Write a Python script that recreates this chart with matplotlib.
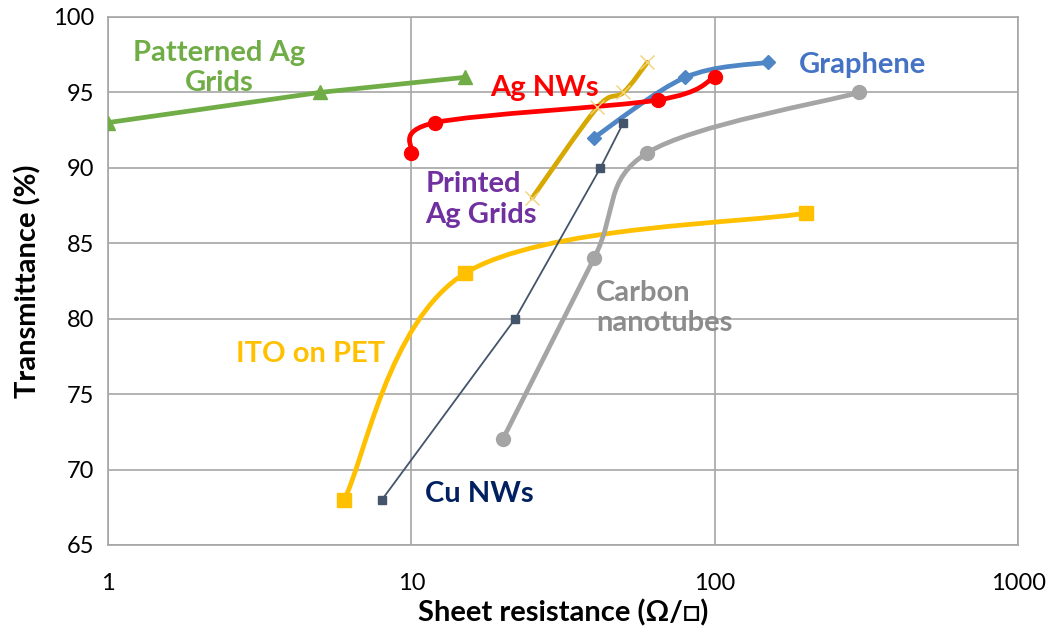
import numpy as np
import matplotlib
matplotlib.use("Agg")
import matplotlib.pyplot as plt
from matplotlib.path import Path
from matplotlib.patches import PathPatch

plt.rcParams['font.family'] = ['Lato', 'DejaVu Sans']

# sheet resistance (ohm/sq) and transmittance (%) per material
patterned_x = [1, 5, 15]
patterned_y = [93, 95, 96]

agnw_x = [10, 12, 65, 100]
agnw_y = [91, 93, 94.5, 96]

printed_x = [25, 41, 50, 60]
printed_y = [88, 94, 95, 97]

graphene_x = [40, 80, 150]
graphene_y = [92, 96, 97]

cunw_x = [8, 22, 42, 50]
cunw_y = [68, 80, 90, 93]

cnt_x = [20, 40, 60, 300]
cnt_y = [72, 84, 91, 95]

ito_x = [6, 15, 200]
ito_y = [68, 83, 87]


def smooth_path(xs, ys):
    # Catmull-Rom style Bezier through the points, built in log-x space
    lx = np.log10(xs)
    y = np.asarray(ys, dtype=float)
    n = len(lx)
    verts = [(lx[0], y[0])]
    codes = [Path.MOVETO]
    for i in range(n - 1):
        p0 = (lx[max(i - 1, 0)], y[max(i - 1, 0)])
        p1 = (lx[i], y[i])
        p2 = (lx[i + 1], y[i + 1])
        p3 = (lx[min(i + 2, n - 1)], y[min(i + 2, n - 1)])
        c1 = (p1[0] + (p2[0] - p0[0]) / 6, p1[1] + (p2[1] - p0[1]) / 6)
        c2 = (p2[0] - (p3[0] - p1[0]) / 6, p2[1] - (p3[1] - p1[1]) / 6)
        verts += [c1, c2, p2]
        codes += [Path.CURVE4] * 3
    verts = [(10 ** vx, vy) for vx, vy in verts]
    return Path(verts, codes)


fig = plt.figure(figsize=(10.55, 6.36), dpi=100)
ax = fig.add_axes([0.1024, 0.1431, 0.8626, 0.8302])
ax.set_xscale('log')
ax.set_xlim(1, 1000)
ax.set_ylim(65, 100)

series = [
    # x, y, colour, linewidth, marker, markersize, smooth
    (ito_x, ito_y, '#FFC000', 3.4, 's', 10, True),
    (cnt_x, cnt_y, '#A5A5A5', 3.4, 'o', 10, True),
    (cunw_x, cunw_y, '#44546A', 1.3, 's', 6, False),
    (graphene_x, graphene_y, '#4F86C6', 3.4, 'D', 7, True),
    (printed_x, printed_y, '#D6A800', 3.4, 'x', 10, True),
    (agnw_x, agnw_y, '#FF0000', 3.4, 'o', 10, True),
    (patterned_x, patterned_y, '#70AD47', 3.4, '^', 10, False),
]

for xs, ys, col, lw, mk, ms, smooth in series:
    if smooth:
        ax.add_patch(PathPatch(smooth_path(xs, ys), fill=False, edgecolor=col,
                               lw=lw, capstyle='round', joinstyle='round', zorder=3))
    else:
        ax.plot(xs, ys, color=col, lw=lw, zorder=3, solid_capstyle='round')
    if mk == 'x':
        ax.plot(xs, ys, ls='none', marker='x', ms=ms, mew=1.0, color='#F2D27A', zorder=4)
    else:
        ax.plot(xs, ys, ls='none', marker=mk, ms=ms, color=col, mec=col, zorder=4)

ax.set_xticks([1, 10, 100, 1000])
ax.set_xticklabels(['1', '10', '100', '1000'])
ax.minorticks_off()
ax.set_yticks(range(65, 101, 5))
ax.tick_params(length=0, labelsize=17, colors='#000000', pad=10)
ax.tick_params(axis='x', pad=20)
ax.grid(True, color='#A6A6A6', lw=1.2)
for s in ax.spines.values():
    s.set_color('#A6A6A6')
    s.set_linewidth(1.2)

ax.set_xlabel('Sheet resistance (Ω/□)', fontsize=21, fontweight='bold', labelpad=4)
ax.set_ylabel('Transmittance (%)', fontsize=21, fontweight='bold', labelpad=8)

lab = dict(fontsize=21, fontweight='bold', transform=ax.transData)
ax.text(2.32, 96.6, 'Patterned Ag\nGrids', color='#70AD47', ha='center', va='center',
        linespacing=1.2, **lab)
ax.text(27.4, 95.3, 'Ag NWs', color='#FF0000', ha='center', va='center', **lab)
ax.text(307, 96.8, 'Graphene', color='#4472C4', ha='center', va='center', **lab)
ax.text(11.1, 87.9, 'Printed\nAg Grids', color='#7030A0', ha='left', va='center',
        linespacing=1.2, **lab)
ax.text(40.6, 80.7, 'Carbon\nnanotubes', color='#8C8C8C', ha='left', va='center',
        linespacing=1.2, **lab)
ax.text(2.64, 77.65, 'ITO on PET', color='#FFC000', ha='left', va='center', **lab)
ax.text(11.1, 68.4, 'Cu NWs', color='#002060', ha='left', va='center', **lab)

fig.savefig('out.png', dpi=100)
